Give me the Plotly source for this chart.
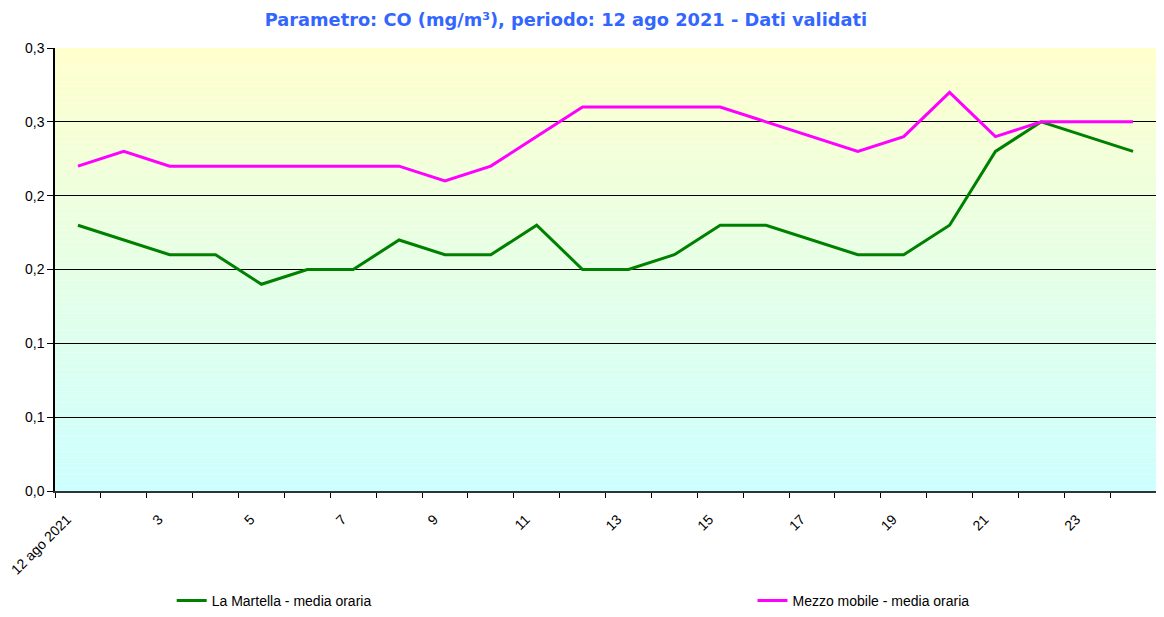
import plotly.graph_objects as go

# hourly means, 12 ago 2021 (hour 1..24)
hours = list(range(1, 25))
la_martella = [0.18, 0.17, 0.16, 0.16, 0.14, 0.15, 0.15, 0.17, 0.16, 0.16, 0.18, 0.15,
               0.15, 0.16, 0.18, 0.18, 0.17, 0.16, 0.16, 0.18, 0.23, 0.25, 0.24, 0.23]
mezzo_mobile = [0.22, 0.23, 0.22, 0.22, 0.22, 0.22, 0.22, 0.22, 0.21, 0.22, 0.24, 0.26,
                0.26, 0.26, 0.26, 0.25, 0.24, 0.23, 0.24, 0.27, 0.24, 0.25, 0.25, 0.25]

x_labels = ["12 ago 2021", "", "3", "", "5", "", "7", "", "9", "", "11", "",
            "13", "", "15", "", "17", "", "19", "", "21", "", "23", ""]
y_ticks = [0, 0.05, 0.1, 0.15, 0.2, 0.25, 0.3]
y_labels = ["0,0", "0,1", "0,1", "0,2", "0,2", "0,3", "0,3"]

fig = go.Figure()
fig.add_trace(go.Scatter(x=hours, y=la_martella, mode="lines", name="La Martella - media oraria",
                         line=dict(color="#008000", width=3), legend="legend"))
fig.add_trace(go.Scatter(x=hours, y=mezzo_mobile, mode="lines", name="Mezzo mobile - media oraria",
                         line=dict(color="#FF00FF", width=3), legend="legend2"))

# vertical gradient background, cyan at bottom to yellow at top
n = 80
top = (255, 255, 204)
bot = (204, 255, 255)
for i in range(n):
    t = (i + 0.5) / n
    c = tuple(round(bot[k] + (top[k] - bot[k]) * t) for k in range(3))
    fig.add_shape(type="rect", xref="x domain", yref="y domain",
                  x0=0, x1=1, y0=i / n, y1=(i + 1) / n,
                  fillcolor="rgb(%d,%d,%d)" % c, line_width=0, layer="below")

# page body has an 8px margin, so the figure is sized to fit inside the window
fig.update_layout(
    width=1148, height=601,
    margin=dict(l=47, r=0, t=40, b=118, autoexpand=False),
    paper_bgcolor="white", plot_bgcolor="white",
    font=dict(family="Liberation Sans, Arial", size=14, color="black"),
    title=dict(text="<b>Parametro: CO (mg/m³), periodo: 12 ago 2021 - Dati validati</b>",
               x=0.486, xanchor="center", y=0.98, yanchor="middle",
               font=dict(family="DejaVu Sans", size=17.8, color="#3366FF")),
    legend=dict(x=0.106, y=-0.248, xanchor="left", yanchor="middle", orientation="h",
                font=dict(size=14), bgcolor="rgba(0,0,0,0)"),
    legend2=dict(x=0.6335, y=-0.248, xanchor="left", yanchor="middle", orientation="h",
                 font=dict(size=14), bgcolor="rgba(0,0,0,0)"),
    showlegend=True,
)
fig.update_xaxes(range=[0.5, 24.5], tickmode="array",
                 tickvals=[h - 0.5 for h in hours], ticktext=x_labels,
                 tickangle=-45, ticks="outside", ticklen=5, tickcolor="black",
                 ticklabelshift=12, ticklabelstandoff=8, ticklabeloverflow="allow",
                 showgrid=False, showline=True, linecolor="#333", linewidth=1.5,
                 zeroline=False, automargin=False)
fig.update_yaxes(range=[0, 0.3], tickmode="array", tickvals=y_ticks, ticktext=y_labels,
                 ticks="outside", ticklen=6, tickcolor="black",
                 showgrid=True, gridcolor="black", gridwidth=1,
                 showline=True, linecolor="black", linewidth=1.5, zeroline=False,
                 automargin=False)

fig.write_html("out.html")
